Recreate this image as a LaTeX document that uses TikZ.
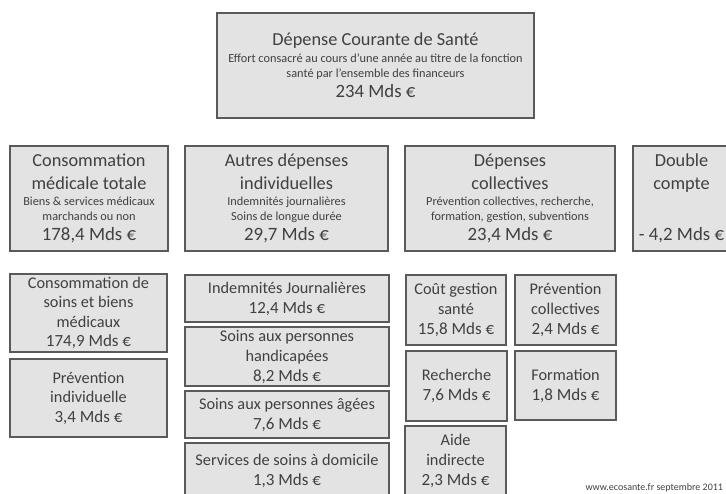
\documentclass[tikz,border=0pt]{standalone}
\usepackage{fontspec}
\setmainfont{Carlito}
\definecolor{boxfill}{HTML}{E3E3E3}
\definecolor{boxline}{HTML}{5A5A5A}
\definecolor{txt}{HTML}{404040}
\newcommand\fbig{\fontsize{18.3}{0}\selectfont}
\newcommand\fbam{\fontsize{18.8}{0}\selectfont}
\newcommand\fsmall{\fontsize{12.3}{0}\selectfont}
\newcommand\fmid{\fontsize{16.3}{0}\selectfont}
\newcommand\famt{\fontsize{17}{0}\selectfont}
\tikzset{
  box/.style={draw=boxline, fill=boxfill, line width=1.6pt, text=txt,
    align=center, inner sep=0pt,
    font={\fmid\lineskiplimit=-1000pt\lineskip=0pt}},
  srcnote/.style={anchor=base west, text=txt, font={\fontsize{10}{12}\selectfont}}
}
\begin{document}
\begin{tikzpicture}[x=1pt,y=-1pt]
\useasboundingbox (0,0) rectangle (726,493);
\clip (0,0) rectangle (726,493);
% top
\node[box, minimum width=317pt, minimum height=105pt] (dcs) at (375.5,65.5)
  {\fbig Dépense Courante de Santé\\[17pt]\fsmall Effort consacré au cours d’une année au titre de la fonction\\[15pt]\fsmall santé par l’ensemble des financeurs\\[20pt]\fbam 234 Mds €};
% row 2
\node[box, minimum width=158pt, minimum height=105pt] (cmt) at (89,198.5)
  {\fbig Consommation\\[23pt]\fbig médicale totale\\[16pt]\fsmall Biens \& services médicaux\\[15pt]\fsmall marchands ou non\\[20pt]\fbam 178,4 Mds €};
\node[box, minimum width=203pt, minimum height=105pt] (adi) at (286.5,198.5)
  {\fbig Autres dépenses\\[23pt]\fbig individuelles\\[16pt]\fsmall Indemnités journalières\\[15pt]\fsmall Soins de longue durée\\[20pt]\fbam 29,7 Mds €};
\node[box, minimum width=210pt, minimum height=105pt] (dco) at (510,198.5)
  {\fbig Dépenses\\[23pt]\fbig collectives\\[16pt]\fsmall Prévention collectives, recherche,\\[15pt]\fsmall formation, gestion, subventions\\[20pt]\fbam 23,4 Mds €};
\node[box, minimum width=97pt, minimum height=105pt] (dbl) at (681.5,198.5)
  {\fbig Double\\[23pt]\fbig compte\\[51pt]\fbam - 4,2 Mds €};
% row 3, column 1
\node[box, minimum width=157pt, minimum height=78pt] (csbm) at (88.5,313)
  {Consommation de\\[19.5pt]soins et biens\\[19.5pt]médicaux\\[19.5pt]\famt 174,9 Mds €};
\node[box, minimum width=157pt, minimum height=78pt] (pind) at (88.5,398)
  {Prévention\\[19.5pt]individuelle\\[19.5pt]\famt 3,4 Mds €};
% column 2
\node[box, minimum width=204pt, minimum height=47pt] (ij) at (287,298.5)
  {Indemnités Journalières\\[20pt]\famt 12,4 Mds €};
\node[box, minimum width=204pt, minimum height=59pt] (sph) at (287,356.5)
  {Soins aux personnes\\[20pt]handicapées\\[20pt]\famt 8,2 Mds €};
\node[box, minimum width=204pt, minimum height=47pt] (spa) at (287,414.5)
  {Soins aux personnes âgées\\[20pt]\famt 7,6 Mds €};
\node[box, minimum width=204pt, minimum height=56pt] (ssd) at (287,471)
  {Services de soins à domicile\\[20pt]\famt 1,3 Mds €};
% column 3
\node[box, minimum width=100pt, minimum height=70pt] (cgs) at (456,310)
  {Coût gestion\\[20pt]santé\\[20pt]\famt 15,8 Mds €};
\node[box, minimum width=101pt, minimum height=70pt] (rech) at (456.5,386)
  {Recherche\\[20pt]\famt 7,6 Mds €};
\node[box, minimum width=101pt, minimum height=70pt] (aide) at (455.5,461)
  {Aide\\[20pt]indirecte\\[20pt]\famt 2,3 Mds €};
% column 4
\node[box, minimum width=101pt, minimum height=70pt] (pcol) at (565.5,310)
  {Prévention\\[20pt]collectives\\[20pt]\famt 2,4 Mds €};
\node[box, minimum width=101pt, minimum height=69pt] (form) at (565.5,385.5)
  {Formation\\[20pt]\famt 1,8 Mds €};
% source
\node[srcnote] (src) at (582,490.5) {www.ecosante.fr septembre 2011};
\end{tikzpicture}
\end{document}
